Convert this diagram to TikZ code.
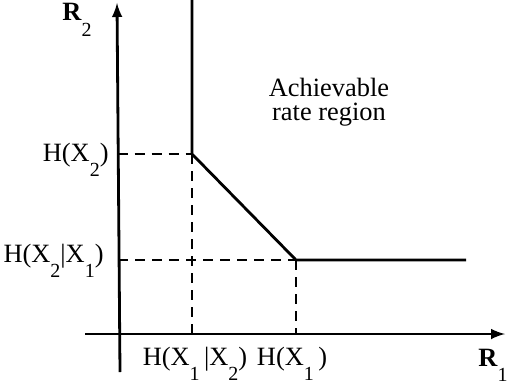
\documentclass[tikz,border=0pt]{standalone}
\usepackage{fontspec}
\setmainfont{Liberation Serif}
\newcommand{\lowsub}[1]{\raisebox{-0.6em}{\fontsize{10}{11}\selectfont #1}}
\tikzset{
  rateline/.style={line width=1.4pt},
  guide/.style={line width=0.6pt,dash pattern=on 5pt off 3.5pt},
  lbl/.style={inner sep=0pt,font=\fontsize{13.2}{15}\selectfont}
}
\begin{document}
\begin{tikzpicture}[x=0.5pt,y=-0.5pt]
\useasboundingbox (0,0) rectangle (507,385);

% Axes
\coordinate (origy) at (120,372);
\coordinate (topy) at (117,3);
\coordinate (origx) at (85,334);
\coordinate (endx) at (505,334);
\draw[-latex,line width=1.4pt] (origy) -- (topy);
\draw[-latex,line width=1.4pt] (origx) -- (endx);

% Corner points
\coordinate (top) at (192,0);
\coordinate (A) at (192,154);
\coordinate (B) at (296,260);
\coordinate (end) at (466,260);
\coordinate (Ay) at (117.6,154);
\coordinate (By) at (118.3,260);
\coordinate (Ax) at (192,334);
\coordinate (Bx) at (296,334);

% Region boundary
\draw[rateline] (top) -- (A) -- (B) -- (end);

% Guides
\draw[guide] (Ay) -- (A);
\draw[guide] (By) -- (B);
\draw[guide] (A) -- (Ax);
\draw[guide] (B) -- (Bx);

% Labels
\node[lbl,anchor=base west] (r2) at (62,21) {\textbf{R}\lowsub{2}};
\node[lbl,anchor=base west] (r1) at (478,366) {\textbf{R}\lowsub{1}};
\node[lbl,anchor=base east] (hx2) at (109,161) {H(X\lowsub{2})};
\node[lbl,anchor=base east] (hx2x1) at (104,262) {H(X\lowsub{2}|X\lowsub{1})};
\node[lbl,anchor=base] (hx1x2) at (195,365) {H(X\lowsub{1}\,|X\lowsub{2})};
\node[lbl,anchor=base] (hx1) at (292,365) {H(X\lowsub{1}\,)};
\node[lbl,align=center,anchor=base] (reg) at (329,120)
{Achievable\\[-3pt]rate region};

\end{tikzpicture}
\end{document}
